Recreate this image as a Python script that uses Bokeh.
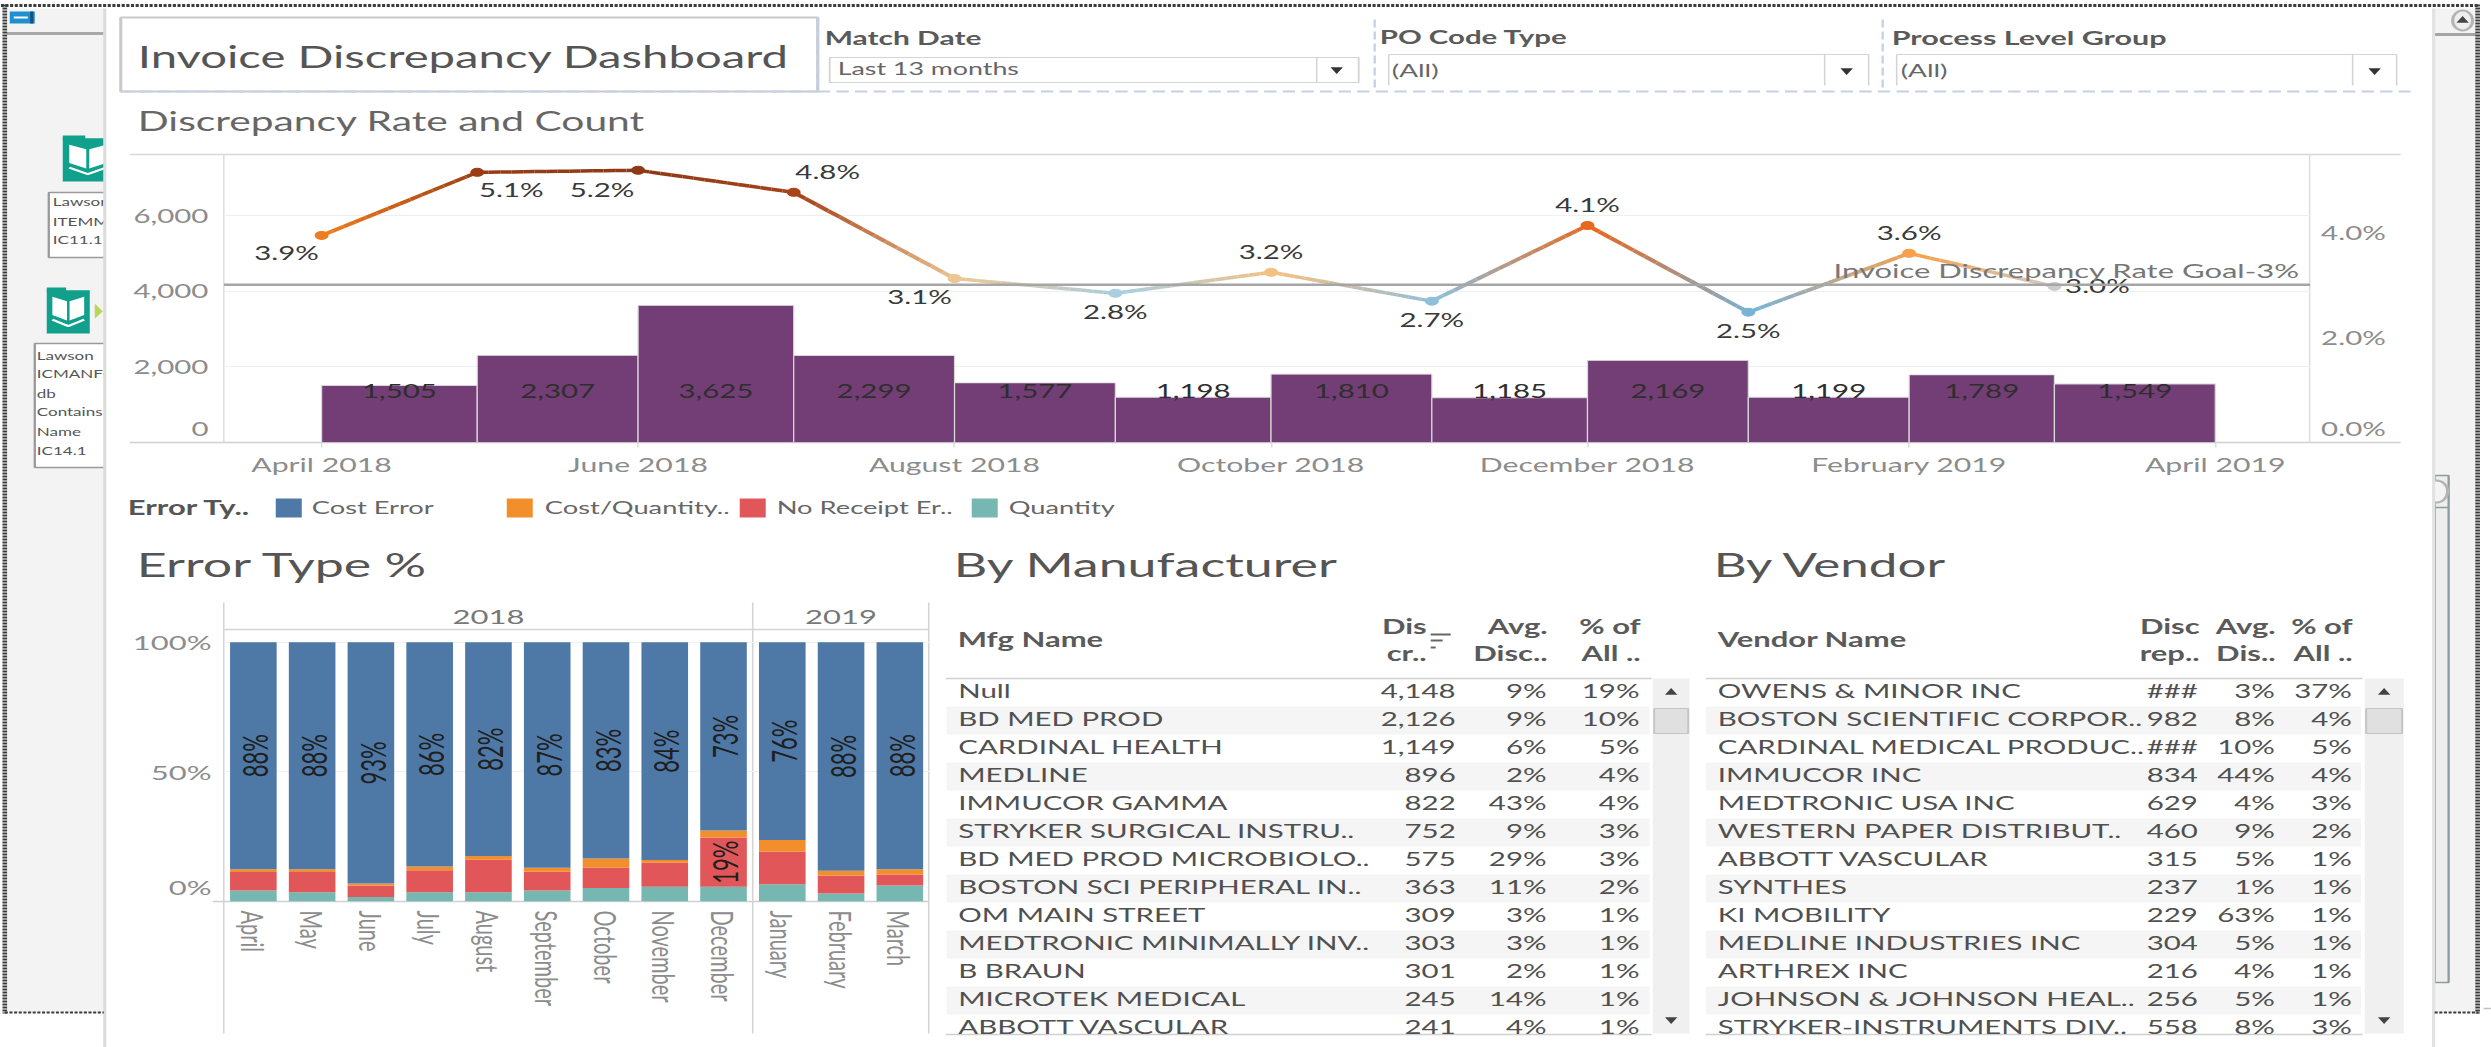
import numpy as np
import pandas as pd
from bokeh.core.properties import value
from bokeh.document import Document
from bokeh.embed import file_html
from bokeh.models import (ColumnDataSource, CustomJS, DatetimeTickFormatter, FixedTicker,
                          LinearAxis, Range1d, Span)
from bokeh.plotting import figure
from bokeh.resources import INLINE

# ---------- data ----------
month_starts = ["2018-04-01", "2018-05-01", "2018-06-01", "2018-07-01", "2018-08-01", "2018-09-01",
                "2018-10-01", "2018-11-01", "2018-12-01", "2019-01-01", "2019-02-01", "2019-03-01"]
counts = [1505, 2307, 3625, 2299, 1577, 1198, 1810, 1185, 2169, 1199, 1789, 1549]
rates = [3.94, 5.14, 5.18, 4.76, 3.12, 2.84, 3.24, 2.69, 4.13, 2.48, 3.60, 2.97]
rate_labels = ["3.9%", "5.1%", "5.2%", "4.8%", "3.1%", "2.8%", "3.2%", "2.7%", "4.1%", "2.5%", "3.6%", "3.0%"]
rate_goal = 3.0
goal_label = "Invoice Discrepancy Rate Goal-3%"
axis_months = ["2018-04-01", "2018-06-01", "2018-08-01", "2018-10-01", "2018-12-01", "2019-02-01", "2019-04-01"]

months = ["April", "May", "June", "July", "August", "September", "October", "November", "December",
          "January", "February", "March"]
years = ["2018", "2019"]
error_types = ["Cost Error", "Cost/Quantity..", "No Receipt Er..", "Quantity"]
cost_error = [87.6, 87.6, 93.1, 86.5, 82.5, 87.0, 83.4, 84.0, 72.6, 76.3, 88.1, 87.6]
cost_quantity = [1.0, 1.0, 0.7, 1.4, 1.4, 1.5, 3.6, 1.1, 2.7, 4.5, 1.9, 2.0]
no_receipt = [7.2, 7.8, 4.5, 8.5, 12.5, 7.3, 7.8, 9.2, 19.0, 12.5, 6.9, 4.2]
quantity = [4.2, 3.6, 1.7, 3.6, 3.6, 4.2, 5.2, 5.7, 5.7, 6.7, 3.1, 6.2]

mfg_names = ["Null", "BD MED PROD", "CARDINAL HEALTH", "MEDLINE", "IMMUCOR GAMMA", "STRYKER SURGICAL INSTRU..",
             "BD MED PROD MICROBIOLO..", "BOSTON SCI PERIPHERAL IN..", "OM MAIN STREET", "MEDTRONIC MINIMALLY INV..",
             "B BRAUN", "MICROTEK MEDICAL", "ABBOTT VASCULAR"]
mfg_disc = ["4,148", "2,126", "1,149", "896", "822", "752", "575", "363", "309", "303", "301", "245", "241"]
mfg_avg = ["9%", "9%", "6%", "2%", "43%", "9%", "29%", "11%", "3%", "3%", "2%", "14%", "4%"]
mfg_share = ["19%", "10%", "5%", "4%", "4%", "3%", "3%", "2%", "1%", "1%", "1%", "1%", "1%"]

vendor_names = ["OWENS & MINOR INC", "BOSTON SCIENTIFIC CORPOR..", "CARDINAL MEDICAL PRODUC..", "IMMUCOR INC",
                "MEDTRONIC USA INC", "WESTERN PAPER DISTRIBUT..", "ABBOTT VASCULAR", "SYNTHES", "KI MOBILITY",
                "MEDLINE INDUSTRIES INC", "ARTHREX INC", "JOHNSON & JOHNSON HEAL..", "STRYKER-INSTRUMENTS DIV.."]
vendor_disc = ["###", "982", "###", "834", "629", "460", "315", "237", "229", "304", "216", "256", "558"]
vendor_avg = ["3%", "8%", "10%", "44%", "4%", "9%", "5%", "1%", "63%", "5%", "4%", "5%", "8%"]
vendor_share = ["37%", "4%", "5%", "4%", "3%", "2%", "1%", "1%", "1%", "1%", "1%", "1%", "3%"]

# ---------- style and layout ----------
SX = 1.55          # the whole dashboard is stretched sideways, as in the reference
PAGE_W, PAGE_H = 2491, 1047
FONT = "Lato"
TXT = "#4d4d4d"
TICK = "#8c8c8c"
LINE = "#d4d4d4"
DASH = "#c5d0e4"
error_colors = ["#4e79a7", "#f28e2b", "#e15759", "#76b7b2"]
purple = "#733e75"
point_colors = ["#ee7d1e", "#9a3d15", "#8f3a17", "#a8431a", "#ecc795", "#a8cfe0",
                "#f5c182", "#8fc0da", "#e8681e", "#78b4d8", "#f8a04a", "#cccccc"]
label_dx = [-35, 34, -36, 34, -35, 0, 0, 0, 0, 0, 0, 43]
label_dy = [17, 17, 19, -21, 18, 18, -21, 18, -21, 18, -21, -1]


def place(x, y):
    return {"position": "absolute", "left": f"{x / SX:.2f}px", "top": f"{y}px"}


def chart(x0, y0, x1, y1, pad_l=0, pad_r=0, pad_t=0, pad_b=0, **kw):
    """A figure whose plot frame sits on page pixels x0..x1, y0..y1; pads hold the axes."""
    bl, br = round(pad_l / SX), round(pad_r / SX)
    fw = round((x1 - x0) / SX)
    p = figure(width=bl + fw + br, height=int(y1 - y0 + pad_t + pad_b), min_border_left=bl, min_border_right=br,
               min_border_top=pad_t, min_border_bottom=pad_b, toolbar_location=None, output_backend="svg",
               tools="", background_fill_alpha=0, border_fill_alpha=0, outline_line_color=None,
               styles=place(x0 - bl * SX, y0 - pad_t), **kw)
    p.grid.visible = False
    return p


# ---------- page furniture (background) ----------
bg = figure(width=round(PAGE_W / SX), height=PAGE_H, x_range=(0, PAGE_W), y_range=(PAGE_H, 0), min_border=0,
            toolbar_location=None, output_backend="svg", tools="", outline_line_color=None,
            background_fill_color="white", border_fill_color="white", styles=place(0, 0))
bg.axis.visible = False
bg.grid.visible = False


def rect(x0, y0, x1, y1, fill, line=None, lw=1):
    bg.quad(left=[x0], right=[x1], top=[y0], bottom=[y1], fill_color=fill, line_color=line, line_width=lw)


def seg(x0, y0, x1, y1, color=LINE, lw=1.0, dash="solid"):
    bg.line([x0, x1], [y0, y1], line_color=color, line_width=lw, line_dash=dash)


def txt(x, y, s, size, color=TXT, align="left", style="normal", baseline="middle"):
    bg.text([x], [y - 1.5], text=[s], text_font=value(FONT), text_font_size=f"{size}px", text_color=color,
            text_align=align, text_baseline=baseline, text_font_style=style)


def book(x0, y0, x1, y1):
    teal, mid = "#10a08c", (x0 + x1) / 2
    w = x1 - x0
    h = y1 - y0
    rect(x0, y0 + 0.06 * h, x1, y1, teal)
    rect(x0, y0, x0 + 0.45 * w, y0 + 0.1 * h, teal)
    bg.patch([x0 + .13 * w, mid - .03 * w, mid - .03 * w, x0 + .13 * w], [y0 + .2 * h, y0 + .3 * h, y0 + .72 * h, y0 + .6 * h],
             fill_color="white", line_color=None)
    bg.patch([x1 - .13 * w, mid + .03 * w, mid + .03 * w, x1 - .13 * w], [y0 + .2 * h, y0 + .3 * h, y0 + .72 * h, y0 + .6 * h],
             fill_color="white", line_color=None)
    bg.line([x0 + .13 * w, mid, x1 - .13 * w], [y0 + .7 * h, y0 + .84 * h, y0 + .7 * h], line_color="white", line_width=2)


# left strip with the workflow behind the dashboard
rect(6, 8, 104, 1012, "#f3f3f3")
seg(6, 33, 103, 33, "#a8a8a8", 3)
rect(9, 11, 34, 23, "#1e8fd0")
seg(13, 17, 27, 17, "white", 2)
seg(31, 11, 31, 23, "#1c4f7a", 2)
book(62, 135, 112, 181)
rect(48, 192, 112, 257, "white", "#9a9a9a", 1.5)
for yy, s in zip([203, 223, 241], ["Lawson", "ITEMMA", "IC11.1"]):
    txt(52, yy, s, 11, "#555555")
book(46, 287, 89, 333)
bg.patch([94, 102, 94], [303, 311, 318], fill_color="#b8d658", line_color=None)
rect(34, 343, 112, 467, "white", "#9a9a9a", 1.5)
for yy, s in zip([357, 375, 395, 413, 433, 452], ["Lawson", "ICMANFC", "db", "Contains N", "Name", "IC14.1"]):
    txt(36, yy, s, 11, "#555555")

# right strip
rect(2434, 8, 2476, 1012, "#f3f3f3")
seg(2434, 34, 2475, 34, "#a4a4a4", 3)
bg.ellipse([2462], [20], width=[20], height=[20], fill_color="#eeeeee", line_color="#b4b4b4", line_width=2)
bg.scatter([2462], [20], marker="triangle", size=8, fill_color="#444444", line_color=None)
rect(2434, 475, 2448, 982, "#eeeeee", "#8d9c9c", 1.5)
seg(2434, 507, 2448, 507, "#8d9c9c", 1.5)
bg.ellipse([2436], [491], width=[22], height=[22], fill_color="#f4f4f4", line_color="#b4b4b4", line_width=2)
seg(2483, 1008, 2491, 1008, "#c0c0c0", 1.5)

# white dashboard panel
rect(105, 8, 2432, PAGE_H, "white")
seg(104, 8, 104, PAGE_H, "#dcdcdc", 2)
seg(2433, 8, 2433, PAGE_H, "#e2e2e2", 2)

# dotted window border
seg(0, 5, 2478, 5, "#3c3c3c", 3, "2 1")
seg(4, 4, 4, 1013, "#3c3c3c", 3, "2 1")
seg(4, 1012, 103, 1012, "#3c3c3c", 2, "2 1")
seg(2434, 1012, 2478, 1012, "#3c3c3c", 2, "2 1")
seg(2477, 4, 2477, 1013, "#3c3c3c", 3, "2 1")

# title box and filters
rect(120, 17, 817, 91, "white", "#c9c9c9", 2)
seg(120, 91, 817, 91, DASH, 2, "8 4")
seg(817, 17, 817, 91, DASH, 2, "8 4")
txt(137, 57, "Invoice Discrepancy Dashboard", 30.5, "#555555")
seg(817, 91, 2410, 91, DASH, 2, "8 4")
seg(1374, 19, 1374, 91, DASH, 1.5, "8 4")
seg(1882, 19, 1882, 91, DASH, 1.5, "8 4")
txt(824, 38, "Match Date", 19.3, "#5a5a5a", style="bold")
txt(1379, 38, "PO Code Type", 19, "#5a5a5a", style="bold")
txt(1891, 38, "Process Level Group", 19.7, "#5a5a5a", style="bold")
rect(829, 57, 1358, 82, "white", LINE, 1.2)
seg(1316, 57, 1316, 82)
txt(837, 70, "Last 13 months", 17.3, "#666666")
for x0, x1, xd, xa in [(1388, 1868, 1824, 1846), (1896, 2396, 2352, 2374)]:
    seg(x0, 54, x0, 85)
    seg(x1, 54, x1, 85)
    seg(x0, 54, x1, 54)
    seg(xd, 54, xd, 85)
    bg.scatter([xa], [70], marker="inverted_triangle", size=8, fill_color="#333333", line_color=None)
bg.scatter([1336], [69], marker="inverted_triangle", size=8, fill_color="#333333", line_color=None)
txt(1391, 71, "(All)", 18, "#666666")
txt(1900, 71, "(All)", 18, "#666666")

# section titles
txt(137, 122, "Discrepancy Rate and Count", 26.3, "#666666")
txt(136, 565, "Error Type %", 33.5, "#555555")
txt(953, 565, "By Manufacturer", 33.5, "#555555")
txt(1713, 565, "By Vendor", 33, "#555555")

# frame lines of the rate chart
seg(129, 154, 2400, 154, "#d8d8d8", 1.5)
seg(129, 442, 2400, 442, "#d0d0d0", 1.5)
seg(223, 154, 223, 442, "#dedede", 1)
seg(2309, 154, 2309, 442, "#dedede", 1)

# legend
txt(127, 508, "Error Ty..", 20, "#555555", style="bold")
for x_sw, x_tx, name, col in zip([275, 506, 739, 971], [311, 544, 776, 1008], error_types, error_colors):
    rect(x_sw, 498, x_sw + 26, 517, col)
    txt(x_tx, 508, name, 17.6, "#666666")

# frame lines of the error chart
seg(212, 901, 928, 901, "#d0d0d0", 1.5)
seg(223, 629, 928, 629, "#d4d4d4", 1.5)
for xv in [223, 752, 928]:
    seg(xv, 602, xv, 1033, "#d4d4d4", 1)

# table headers and scrollbars
for x_name, name_head, xs_head, head1, head2, x_r, x_sb0, x_sb1 in [
    (957, "Mfg Name", [1426, 1547, 1640], ["Dis", "Avg.", "% of"], ["cr..", "Disc..", "All .."], 1651, 1652, 1689),
    (1717, "Vendor Name", [2199, 2275, 2352], ["Disc", "Avg.", "% of"], ["rep..", "Dis..", "All .."], 2362, 2364, 2403),
]:
    txt(x_name, 640, name_head, 20, "#5a5a5a", style="bold")
    for xh, a, b in zip(xs_head, head1, head2):
        txt(xh, 627, a, 20, "#5a5a5a", "right", "bold")
        txt(xh, 654, b, 20, "#5a5a5a", "right", "bold")
    seg(x_name - 12, 678, x_r, 678, "#d0d0d0", 1.5)
    seg(x_name - 12, 1034, x_r, 1034, "#d0d0d0", 1.5)
    rect(x_sb0, 678, x_sb1, 1033, "#f0f0f0")
    rect(x_sb0 + 1.5, 708, x_sb1 - 1.5, 733, "#e0e0e0", "#c4c4c4", 1.2)
    xc = (x_sb0 + x_sb1) / 2
    bg.scatter([xc], [692], marker="triangle", size=8, fill_color="#444444", line_color=None)
    bg.scatter([xc], [1019], marker="inverted_triangle", size=8, fill_color="#444444", line_color=None)
for xb, length in zip([634, 640, 647], [20, 12, 5]):
    seg(1430, xb, 1430 + length, xb, "#666666", 2)

# ---------- Discrepancy rate and count ----------
starts = pd.to_datetime(month_starts)
ends = starts + pd.DateOffset(months=1)
PX_PER_DAY = 5.187
x_start = starts[0] - pd.Timedelta(days=97.6 / PX_PER_DAY)
x_end = ends[-1] + pd.Timedelta(days=95 / PX_PER_DAY)
count_top = 7627
rate_top = 5.48

p1 = chart(223, 154, 2309, 442, pad_l=120, pad_r=120, pad_t=1, pad_b=42, x_axis_type="datetime",
           x_range=Range1d(x_start, x_end), y_range=Range1d(0, count_top))
p1.extra_y_ranges = {"rate": Range1d(0, rate_top)}
grid_ticks = [2000, 4000, 6000]
p1.ygrid.visible = True
p1.ygrid.ticker = FixedTicker(ticks=grid_ticks)
p1.ygrid.grid_line_color = "#efefef"
p1.xgrid.visible = False

src1 = ColumnDataSource(dict(left=starts, right=ends, top=counts, mid=starts + (ends - starts) / 2,
                             text=[f"{c:,}" for c in counts], level=[1357] * len(counts)))
p1.quad(left="left", right="right", bottom=0, top="top", source=src1, fill_color=purple, line_color="#d8d8d8", line_width=0.8)
p1.text(x="mid", y="level", text="text", source=src1, text_font=value(FONT), text_font_size="19px",
        text_color="#2e2e2e", text_align="center", text_baseline="middle")
p1.add_layout(Span(location=rate_goal, dimension="width", y_range_name="rate", line_color="#a6a6a6", line_width=2.5))

# colour fades from point to point along the rate line
xs_ms = np.array([t.timestamp() * 1000 for t in starts])


def rgb(h):
    return np.array([int(h[i:i + 2], 16) for i in (1, 3, 5)], dtype=float)


sx0, sy0, sx1, sy1, scol = [], [], [], [], []
for i in range(len(rates) - 1):
    t = np.linspace(0, 1, 15)
    xx = xs_ms[i] + (xs_ms[i + 1] - xs_ms[i]) * t
    yy = rates[i] + (rates[i + 1] - rates[i]) * t
    for j in range(len(t) - 1):
        c = rgb(point_colors[i]) * (1 - t[j]) + rgb(point_colors[i + 1]) * t[j]
        sx0.append(xx[j]); sy0.append(yy[j]); sx1.append(xx[j + 1]); sy1.append(yy[j + 1])
        scol.append("#%02x%02x%02x" % tuple(int(v) for v in c))
p1.segment(sx0, sy0, sx1, sy1, line_color=scol, line_width=3.5, y_range_name="rate")
src_rate = ColumnDataSource(dict(x=starts, y=rates, c=point_colors, t=rate_labels,
                                 dx=[d / SX for d in label_dx], dy=label_dy))
p1.scatter(x="x", y="y", size=8, color="c", source=src_rate, y_range_name="rate")
p1.text(x="x", y="y", text="t", x_offset="dx", y_offset="dy", source=src_rate, y_range_name="rate",
        text_font=value(FONT), text_font_size="19px", text_color="#3a3a3a", text_align="center", text_baseline="middle")
p1.text(x=[x_end - pd.Timedelta(days=2)], y=[rate_goal], text=[goal_label], y_offset=[-15], y_range_name="rate",
        text_font=value(FONT), text_font_size="20px", text_color="#777777", text_align="right", text_baseline="middle")

x_ax = p1.xaxis[0]
x_ax.ticker = FixedTicker(ticks=[pd.Timestamp(m).timestamp() * 1000 for m in axis_months])
fmt = "%B %Y"
x_ax.formatter = DatetimeTickFormatter(milliseconds=fmt, seconds=fmt, minsec=fmt, minutes=fmt, hourmin=fmt, hours=fmt,
                                       days=fmt, months=fmt, years=fmt, context=None)
x_ax.axis_line_color = None
x_ax.major_tick_line_color = "#dcdcdc"
x_ax.major_tick_out = 5
x_ax.major_tick_in = 0
x_ax.minor_tick_line_color = None
x_ax.major_label_standoff = 6
x_ax.major_label_text_font = FONT
x_ax.major_label_text_font_size = "19.5px"
x_ax.major_label_text_color = TICK

y_ax = p1.yaxis[0]
y_ax.ticker = FixedTicker(ticks=[370, 2000, 4000, 6000])    # the zero label sits above the baseline
y_ax.major_label_overrides = {370: "0", 2000: "2,000", 4000: "4,000", 6000: "6,000"}
r_ax = LinearAxis(y_range_name="rate", ticker=FixedTicker(ticks=[0.27, 2, 4]),
                  major_label_overrides={0.27: "0.0%", 2: "2.0%", 4: "4.0%"})
p1.add_layout(r_ax, "right")
for ax, st in [(y_ax, 10), (r_ax, 7)]:
    ax.axis_line_color = None
    ax.major_tick_line_color = None
    ax.minor_tick_line_color = None
    ax.major_tick_out = 0
    ax.major_tick_in = 0
    ax.major_label_standoff = st
    ax.major_label_text_font = FONT
    ax.major_label_text_font_size = "19px"
    ax.major_label_text_color = TICK

# ---------- Error type % ----------
n_pad = 104.9
month_pos = [i + 0.5 for i in range(len(months))]
p2 = chart(223, 629, 928, 901, pad_l=120, pad_r=4, pad_t=32, pad_b=134,
           x_range=Range1d(0, len(months)), y_range=Range1d(0, n_pad))
p2.ygrid.visible = True
p2.ygrid.ticker = FixedTicker(ticks=[50, 100])
p2.ygrid.grid_line_color = "#f0f0f0"
stack_names = ["quantity", "no_receipt", "cost_quantity", "cost_error"]
src2 = ColumnDataSource(dict(pos=month_pos, quantity=quantity, no_receipt=no_receipt, cost_quantity=cost_quantity,
                             cost_error=cost_error))
p2.vbar_stack(stack_names, x="pos", width=0.793, source=src2, line_color=None,
              fill_color=[error_colors[3], error_colors[2], error_colors[1], error_colors[0]])
mid_cost = [100 - v / 2 for v in cost_error]
p2.text(x=month_pos, y=mid_cost, text=[f"{round(v)}%" for v in cost_error], angle=np.pi / 2, x_offset=[1] * 12,
        text_font=value(FONT), text_font_size="22px", text_color="#1f1f1f", text_align="center", text_baseline="middle")
big = [i for i, v in enumerate(no_receipt) if v >= 15]
p2.text(x=[month_pos[i] for i in big], y=[quantity[i] + no_receipt[i] / 2 for i in big],
        text=[f"{round(no_receipt[i])}%" for i in big], angle=np.pi / 2, x_offset=[1] * len(big),
        text_font=value(FONT), text_font_size="22px", text_color="#1f1f1f", text_align="center", text_baseline="middle")

m_ax = p2.xaxis[0]
m_ax.ticker = FixedTicker(ticks=month_pos)
m_ax.major_label_overrides = dict(zip(month_pos, months))
m_ax.axis_line_color = None
m_ax.major_tick_line_color = None
m_ax.minor_tick_line_color = None
m_ax.major_tick_out = 0
m_ax.major_tick_in = 0
m_ax.major_label_orientation = "vertical"
m_ax.major_label_standoff = 9
m_ax.major_label_text_font = FONT
m_ax.major_label_text_font_size = "20px"
m_ax.major_label_text_color = TICK
yr_ax = LinearAxis(ticker=FixedTicker(ticks=[4.5, 10.5]),
                   major_label_overrides={4.5: years[0], 10.5: years[1]})
p2.add_layout(yr_ax, "above")
yr_ax.axis_line_color = None
yr_ax.major_tick_line_color = None
yr_ax.minor_tick_line_color = None
yr_ax.major_tick_out = 0
yr_ax.major_tick_in = 0
yr_ax.major_label_standoff = 5
yr_ax.major_label_text_font = FONT
yr_ax.major_label_text_font_size = "20px"
yr_ax.major_label_text_color = "#777777"
pct_ax = p2.yaxis[0]
pct_ax.ticker = FixedTicker(ticks=[5.4, 50, 100])    # the zero label sits above the baseline
pct_ax.major_label_overrides = {5.4: "0%", 50: "50%", 100: "100%"}
pct_ax.axis_line_color = None
pct_ax.major_tick_line_color = None
pct_ax.minor_tick_line_color = None
pct_ax.major_tick_out = 0
pct_ax.major_tick_in = 0
pct_ax.major_label_standoff = 8
pct_ax.major_label_text_font = FONT
pct_ax.major_label_text_font_size = "20px"
pct_ax.major_label_text_color = TICK


# ---------- tables ----------
def table(x0, x1, x_name, x_cols, names, c1, c2, c3):
    rows = np.arange(len(names))
    rows_visible = (1034 - 678) / 28
    p = chart(x0, 678, x1, 1034, x_range=Range1d(x0, x1), y_range=Range1d(rows_visible, 0))
    p.xaxis.visible = False
    p.yaxis.visible = False
    odd = rows[1::2]
    p.quad(left=x0, right=x1 - 2, top=odd, bottom=odd + 1, fill_color="#f5f5f5", line_color=None)
    kw = dict(text_font=value(FONT), text_font_size="19px", text_color="#505050", text_baseline="middle",
              y_offset=[-1.5] * len(names))
    p.text(x=[x_name] * len(names), y=rows + 0.5, text=names, text_align="left", **kw)
    for x_col, col in zip(x_cols, [c1, c2, c3]):
        p.text(x=[x_col] * len(col), y=rows + 0.5, text=col, text_align="right", **kw)
    return p


p3 = table(945, 1651, 957, [1455, 1546, 1639], mfg_names, mfg_disc, mfg_avg, mfg_share)
p4 = table(1705, 2362, 1717, [2197, 2274, 2351], vendor_names, vendor_disc, vendor_avg, vendor_share)

doc = Document()
for root in [bg, p1, p2, p3, p4]:
    doc.add_root(root)
# the sideways stretch is applied once Bokeh has finished laying the page out
doc.js_on_event("document_ready", CustomJS(args=dict(sx=SX), code="""
    document.documentElement.style.overflow = 'hidden';
    document.body.style.margin = '0';
    document.body.style.transformOrigin = '0 0';
    document.body.style.transform = `scaleX(${sx})`;
"""))
open("out.html", "w").write(file_html(doc, INLINE))
